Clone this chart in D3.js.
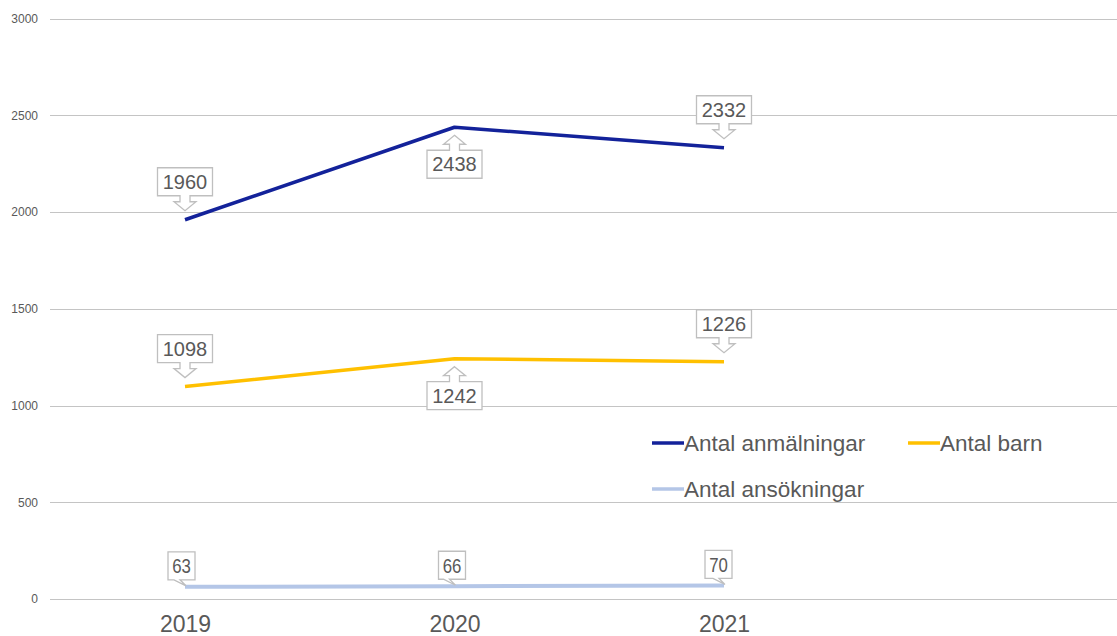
<!DOCTYPE html>
<html>
<head>
<meta charset="utf-8">
<script src="https://cdn.jsdelivr.net/npm/d3@7"></script>
<style>
  html, body { margin: 0; padding: 0; background: #fff; }
  svg { display: block; font-family: "Liberation Sans", Arial, sans-serif; }
</style>
</head>
<body>
<svg id="chart" width="1117" height="636"></svg>
<script>
const years = ["2019", "2020", "2021"];
const anmalningar = [1960, 2438, 2332];
const barn = [1098, 1242, 1226];
const ansokningar = [63, 66, 70];
const yTicks = [0, 500, 1000, 1500, 2000, 2500, 3000];
const seriesNames = ["Antal anmälningar", "Antal barn", "Antal ansökningar"];
const seriesColors = ["#13229a", "#FFC000", "#B4C6E7"];
// label placement per point: "up" = callout above point, "down" = below
const anmPlacement = ["up", "down", "up"];
const barnPlacement = ["up", "down", "up"];

const svg = d3.select("#chart");
const x = d3.scalePoint().domain(years).range([185, 724]);
const y = d3.scaleLinear().domain([0, 3000]).range([599, 18.5]);
const textColor = "#595959";

// gridlines + y labels
const yAxis = d3.axisLeft(y).tickValues(yTicks).tickFormat(d3.format("d")).tickSize(0).tickPadding(0);
const gy = svg.append("g").attr("transform", "translate(38,0)").call(yAxis);
gy.select(".domain").remove();
gy.selectAll("text").attr("font-size", 12).attr("fill", textColor)
  .attr("font-family", "Liberation Sans, Arial, sans-serif");
svg.append("g").selectAll("line").data(yTicks).join("line")
  .attr("x1", 50).attr("x2", 1117)
  .attr("y1", d => Math.round(y(d)) + 0.5).attr("y2", d => Math.round(y(d)) + 0.5)
  .attr("stroke", "#c4c4c4").attr("stroke-width", 1.2);

// x labels
const xAxis = d3.axisBottom(x).tickSize(0).tickPadding(0);
const gx = svg.append("g").attr("transform", "translate(0,615)").call(xAxis);
gx.select(".domain").remove();
gx.selectAll("text").attr("font-size", 23).attr("fill", textColor)
  .attr("dy", "0.72em").attr("font-family", "Liberation Sans, Arial, sans-serif");

// lines
const line = d3.line().x((d, i) => x(years[i])).y(d => y(d));
[anmalningar, barn, ansokningar].forEach((vals, k) => {
  svg.append("path").datum(vals).attr("d", line)
    .attr("fill", "none").attr("stroke", seriesColors[k])
    .attr("stroke-width", k === 2 ? 4 : 3.5).attr("stroke-linejoin", "round");
});

// Block-arrow callouts
function blockCallout(px, py, value, dir) {
  const w = 55, h = 28, sh = 5, hh = 11, sl = 6, hl = 9;
  const cx = px;
  const x0 = cx - w / 2, x1 = cx + w / 2;
  let p;
  if (dir === "up") {
    const tip = py - 9;
    const y1 = tip - sl - hl, y0 = y1 - h;
    p = [[x0, y0], [x1, y0], [x1, y1], [cx + sh, y1], [cx + sh, y1 + sl], [cx + hh, y1 + sl], [cx, tip],
         [cx - hh, y1 + sl], [cx - sh, y1 + sl], [cx - sh, y1], [x0, y1]];
    drawC(p, cx, y0 + h / 2, value, 20);
  } else {
    const tip = py + 8;
    const y0 = tip + sl + hl, y1 = y0 + h;
    p = [[cx, tip], [cx + hh, tip + hl], [cx + sh, tip + hl], [cx + sh, y0], [x1, y0], [x1, y1], [x0, y1],
         [x0, y0], [cx - sh, y0], [cx - sh, tip + hl], [cx - hh, tip + hl]];
    drawC(p, cx, y0 + h / 2, value, 20);
  }
}
function drawC(points, tx, ty, value, fs, sx) {
  svg.append("path").attr("d", "M" + points.map(p => p.join(",")).join("L") + "Z")
    .attr("fill", "#fff").attr("stroke", "#bfbfbf").attr("stroke-width", 1.3)
    .attr("stroke-linejoin", "miter");
  const t = svg.append("text").attr("x", tx).attr("y", ty).attr("dy", "0.36em")
    .attr("text-anchor", "middle").attr("font-size", fs).attr("fill", textColor)
    .text(value);
  if (sx) t.attr("transform", `translate(${tx},0) scale(${sx},1) translate(${-tx},0)`);
}
anmalningar.forEach((v, i) => blockCallout(x(years[i]), y(v), v, anmPlacement[i]));
barn.forEach((v, i) => blockCallout(x(years[i]), y(v), v, barnPlacement[i]));

// small wedge callouts for ansökningar
const smallOffsets = [17, 16, 19];
ansokningar.forEach((v, i) => {
  const px = x(years[i]), py = y(v);
  const w = 27, h = 28;
  const x0 = px - smallOffsets[i], x1 = x0 + w;
  const y1 = py - 7, y0 = y1 - h;
  const a = smallOffsets[i] - 14;
  const pts = [[x0, y0], [x1, y0], [x1, y1], [x0 + a + 9, y1], [px + 1, py - 1], [x0 + a + 3, y1], [x0, y1]];
  drawC(pts, x0 + w / 2, y0 + h / 2, v, 21, 0.8);
});

// legend
const legend = [
  { name: seriesNames[0], color: seriesColors[0], lx: 652, ly: 443 },
  { name: seriesNames[1], color: seriesColors[1], lx: 908, ly: 443 },
  { name: seriesNames[2], color: seriesColors[2], lx: 652, ly: 489 }
];
const lg = svg.append("g").selectAll("g").data(legend).join("g")
  .attr("transform", d => `translate(${d.lx},${d.ly})`);
lg.append("line").attr("x1", 0).attr("x2", 32).attr("y1", 0).attr("y2", 0)
  .attr("stroke", d => d.color).attr("stroke-width", 3.5);
lg.append("text").attr("x", 32).attr("y", 0).attr("dy", "0.36em")
  .attr("font-size", 22.5).attr("fill", textColor).text(d => d.name);
</script>
</body>
</html>
